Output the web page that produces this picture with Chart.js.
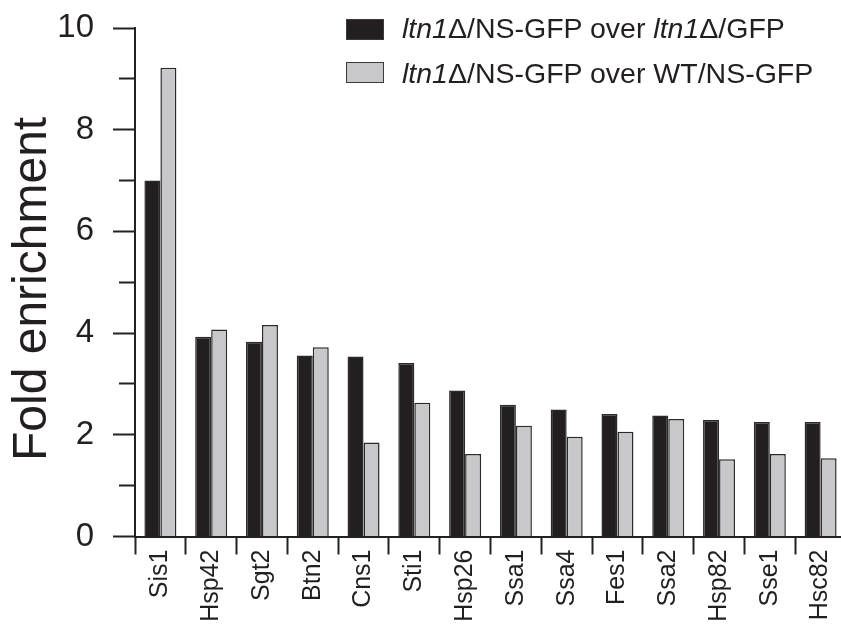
<!DOCTYPE html>
<html>
<head>
<meta charset="utf-8">
<script src="https://cdn.jsdelivr.net/npm/chart.js@4/dist/chart.umd.min.js"></script>
<style>
  html, body { margin: 0; padding: 0; background: #fff; overflow: hidden; }
  #wrap { position: relative; width: 841px; height: 625px; overflow: hidden; }
  #grafico { position: absolute; left: 0; top: 0; }
  .leg { position: absolute; font-family: "Liberation Sans", Arial, sans-serif; font-size: 28.5px; color: #231f20; white-space: nowrap; line-height: 30px; }
  .caixa { position: absolute; width: 36px; height: 19px; border: 1.5px solid #3a3a3a; }
</style>
</head>
<body>
<div id="wrap">
  <canvas id="grafico" width="860" height="625"></canvas>
  <div class="caixa" style="left:346px; top:19px; background:#231f20;"></div>
  <div class="leg" style="left:402px; top:13px;"><i>ltn1</i>Δ/NS-GFP over <i>ltn1</i>Δ/GFP</div>
  <div class="caixa" style="left:346px; top:62px; background:#c8c8ca;"></div>
  <div class="leg" style="left:402px; top:58px;"><i>ltn1</i>Δ/NS-GFP over WT/NS-GFP</div>
</div>
<script>
// categorias (proteínas) e valores
const proteinas = ['Sis1', 'Hsp42', 'Sgt2', 'Btn2', 'Cns1', 'Sti1', 'Hsp26', 'Ssa1', 'Ssa4', 'Fes1', 'Ssa2', 'Hsp82', 'Sse1', 'Hsc82'];
const sobreGfp = [7.0, 3.93, 3.83, 3.56, 3.54, 3.41, 2.87, 2.59, 2.50, 2.41, 2.38, 2.29, 2.25, 2.25];
const sobreWt = [9.22, 4.07, 4.16, 3.72, 1.85, 2.63, 1.62, 2.18, 1.96, 2.06, 2.31, 1.52, 1.62, 1.54];
const nomesSeries = ['ltn1Δ/NS-GFP over ltn1Δ/GFP', 'ltn1Δ/NS-GFP over WT/NS-GFP'];
const marcasY = [0, 2, 4, 6, 8, 10];

const fonte = '"Liberation Sans", Arial, sans-serif';
const corTexto = '#231f20';

const ctx = document.getElementById('grafico').getContext('2d');

new Chart(ctx, {
  type: 'bar',
  data: {
    labels: proteinas,
    datasets: [
      {
        label: nomesSeries[0],
        data: sobreGfp,
        backgroundColor: '#231f20',
        borderColor: '#2a2a2a',
        borderWidth: 1.5,
        barPercentage: 1,
        categoryPercentage: 0.63
      },
      {
        label: nomesSeries[1],
        data: sobreWt,
        backgroundColor: '#c8c8ca',
        borderColor: '#2a2a2a',
        borderWidth: 1.5,
        barPercentage: 1,
        categoryPercentage: 0.63
      }
    ]
  },
  options: {
    responsive: false,
    animation: false,
    layout: { padding: { left: 0, right: 14, top: 28, bottom: 0 } },
    plugins: {
      legend: { display: false },
      tooltip: { enabled: false }
    },
    scales: {
      x: {
        afterFit: scale => { scale.height = 88.5; },
        border: { display: true, color: '#222', width: 2 },
        grid: {
          offset: true,
          drawOnChartArea: false,
          drawTicks: true,
          tickLength: 18,
          tickWidth: 2,
          tickColor: '#222'
        },
        ticks: {
          autoSkip: false,
          minRotation: 90,
          maxRotation: 90,
          padding: -5,
          color: corTexto,
          font: { family: fonte, size: 25 }
        }
      },
      y: {
        min: 0,
        max: 10,
        afterFit: scale => {
          scale.width = 135;
          scale.paddingTop = 0;
          scale.paddingBottom = 0;
        },
        border: { display: true, color: '#222', width: 2 },
        grid: {
          drawOnChartArea: false,
          drawTicks: true,
          tickLength: 22,
          tickWidth: 2,
          tickColor: '#222',
          // marcas menores (valores ímpares) mais curtas
          tickBorderDash: c => (c.tick && marcasY.includes(c.tick.value)) ? [] : [0, 6, 100, 0]
        },
        ticks: {
          stepSize: 1,
          padding: 19,
          color: corTexto,
          font: { family: fonte, size: 33 },
          callback: v => marcasY.includes(v) ? String(v) : ''
        },
        title: {
          display: true,
          text: 'Fold enrichment ',
          color: corTexto,
          font: { family: fonte, size: 48 },
          padding: { top: 4, bottom: 0 }
        }
      }
    }
  }
});
</script>
</body>
</html>
